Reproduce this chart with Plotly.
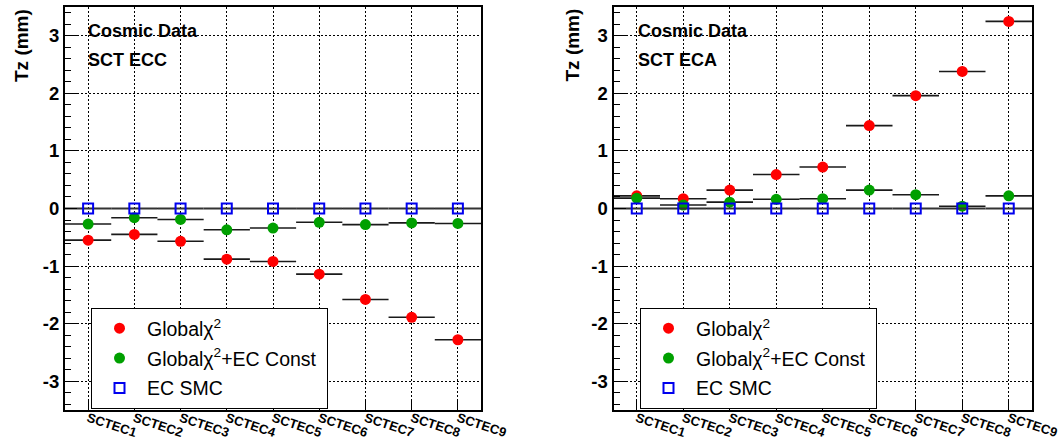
import plotly.graph_objects as go

# SCT end-cap disk modules
modules = ["SCTEC1", "SCTEC2", "SCTEC3", "SCTEC4", "SCTEC5",
           "SCTEC6", "SCTEC7", "SCTEC8", "SCTEC9"]
bin_centers = [0.5, 1.5, 2.5, 3.5, 4.5, 5.5, 6.5, 7.5, 8.5]
bin_half_width = 0.5

# Tz axis ticks
tz_ticks = [-3, -2, -1, 0, 1, 2, 3]
tz_labels = ["-3", "-2", "-1", "0", "1", "2", "3"]

# Tz (mm), end-cap C
ecc_global = [-0.55, -0.45, -0.57, -0.88, -0.92, -1.14, -1.58, -1.89, -2.28]
ecc_global_ec = [-0.27, -0.16, -0.19, -0.37, -0.34, -0.24, -0.28, -0.25, -0.26]
ecc_smc = [0, 0, 0, 0, 0, 0, 0, 0, 0]

# Tz (mm), end-cap A
eca_global = [0.22, 0.17, 0.32, 0.59, 0.72, 1.44, 1.96, 2.38, 3.25]
eca_global_ec = [0.18, 0.06, 0.11, 0.16, 0.17, 0.32, 0.24, 0.04, 0.22]
eca_smc = [0, 0, 0, 0, 0, 0, 0, 0, 0]

series_names = ["Global\u03c7<sup>2</sup>",
                "Global\u03c7<sup>2</sup>+EC Const\u00a0",
                "EC SMC"]

FONT = "Liberation Sans, Arial, Helvetica, sans-serif"
W, H = 1058, 442


def px_x(p):
    return p / W


def px_y(p):
    return (H - p) / H


fig = go.Figure()


def add_panel(values, xa, ya, legend_name, tag):
    styles = [
        dict(symbol="circle", size=11, color="#ff0000", line=dict(width=0)),
        dict(symbol="circle", size=11, color="#00a000", line=dict(width=0)),
        dict(symbol="square-open", size=10, color="#0000ee", line=dict(width=2, color="#0000ee")),
    ]
    bar_colors = ["#1a1a1a", "#1a1a1a", "#333333"]
    bar_thick = [1.6, 1.6, 2.2]
    for i, (vals, name, st) in enumerate(zip(values, series_names, styles)):
        fig.add_trace(go.Scatter(
            x=bin_centers, y=vals, mode="markers", name=name,
            marker=st,
            error_x=dict(type="constant", value=bin_half_width, width=0,
                         thickness=bar_thick[i], color=bar_colors[i]),
            xaxis=xa, yaxis=ya, legend=legend_name,
            legendgroup=f"{tag}{i}", showlegend=True,
        ))


add_panel([ecc_global, ecc_global_ec, ecc_smc], "x", "y", "legend", "c")
add_panel([eca_global, eca_global_ec, eca_smc], "x2", "y2", "legend2", "a")

grid_dash = "2px,2px"


def xaxis_cfg(domain, anchor):
    return dict(
        domain=domain, anchor=anchor, range=[0, 9],
        tickmode="array", tickvals=bin_centers, ticktext=modules,
        tickangle=18, ticks="inside", ticklen=10, tickwidth=1.2, tickcolor="black",
        tickfont=dict(family=FONT, size=13, color="black", weight="bold"),
        ticklabelstandoff=-6, ticklabeloverflow="allow",
        showline=True, linewidth=2, linecolor="black", mirror=True,
        showgrid=True, gridcolor="#000000", gridwidth=1, griddash=grid_dash,
        zeroline=False, automargin=False, fixedrange=True,
    )


def yaxis_cfg(domain, anchor):
    return dict(
        domain=domain, anchor=anchor, range=[-3.5, 3.5],
        tickmode="array", tickvals=tz_ticks, ticktext=tz_labels,
        ticks="inside", ticklen=12, tickwidth=1.2, tickcolor="black",
        minor=dict(ticks="inside", ticklen=6, tickmode="linear", dtick=0.2, tick0=0,
                   tickcolor="black", tickwidth=1, showgrid=False),
        tickfont=dict(family=FONT, size=18.5, color="black", weight="bold"),
        showline=True, linewidth=2, linecolor="black", mirror=True,
        showgrid=True, gridcolor="#000000", gridwidth=1, griddash=grid_dash,
        zeroline=False, automargin=False, fixedrange=True,
    )


y_dom = [px_y(410), px_y(7)]
legend_common = dict(
    bgcolor="white", bordercolor="black", borderwidth=1,
    font=dict(family=FONT, size=19.5, color="black"),
    xanchor="left", yanchor="top", tracegroupgap=1.5, itemwidth=45,
    itemclick=False, itemdoubleclick=False,
)

annotations = []
for ttl_x, txt_x, label in [(21.5, 86, "SCT ECC"), (572, 636, "SCT ECA")]:
    annotations.append(dict(
        text="Tz (mm)", textangle=-90, xref="paper", yref="paper",
        x=px_x(ttl_x), y=px_y(7), xanchor="center", yanchor="top", showarrow=False,
        font=dict(family=FONT, size=19, color="black", weight="bold"),
    ))
    for line, yc in [("Cosmic Data", 31.5), (label, 60)]:
        annotations.append(dict(
            text=line, xref="paper", yref="paper",
            x=px_x(txt_x), y=px_y(yc), xanchor="left", yanchor="middle", showarrow=False,
            font=dict(family=FONT, size=18, color="black", weight="bold"),
        ))

fig.update_layout(
    width=W, height=H,
    margin=dict(l=0, r=0, t=0, b=0, pad=0),
    paper_bgcolor="white", plot_bgcolor="white",
    xaxis=xaxis_cfg([px_x(65), px_x(481)], "y"),
    yaxis=yaxis_cfg(y_dom, "x"),
    xaxis2=xaxis_cfg([px_x(613.5), px_x(1032)], "y2"),
    yaxis2=yaxis_cfg(y_dom, "x2"),
    legend=dict(x=px_x(91), y=px_y(308), **legend_common),
    legend2=dict(x=px_x(640), y=px_y(308), **legend_common),
    annotations=annotations,
    showlegend=True,
)

fig.write_html("out.html", config={"displayModeBar": False})
